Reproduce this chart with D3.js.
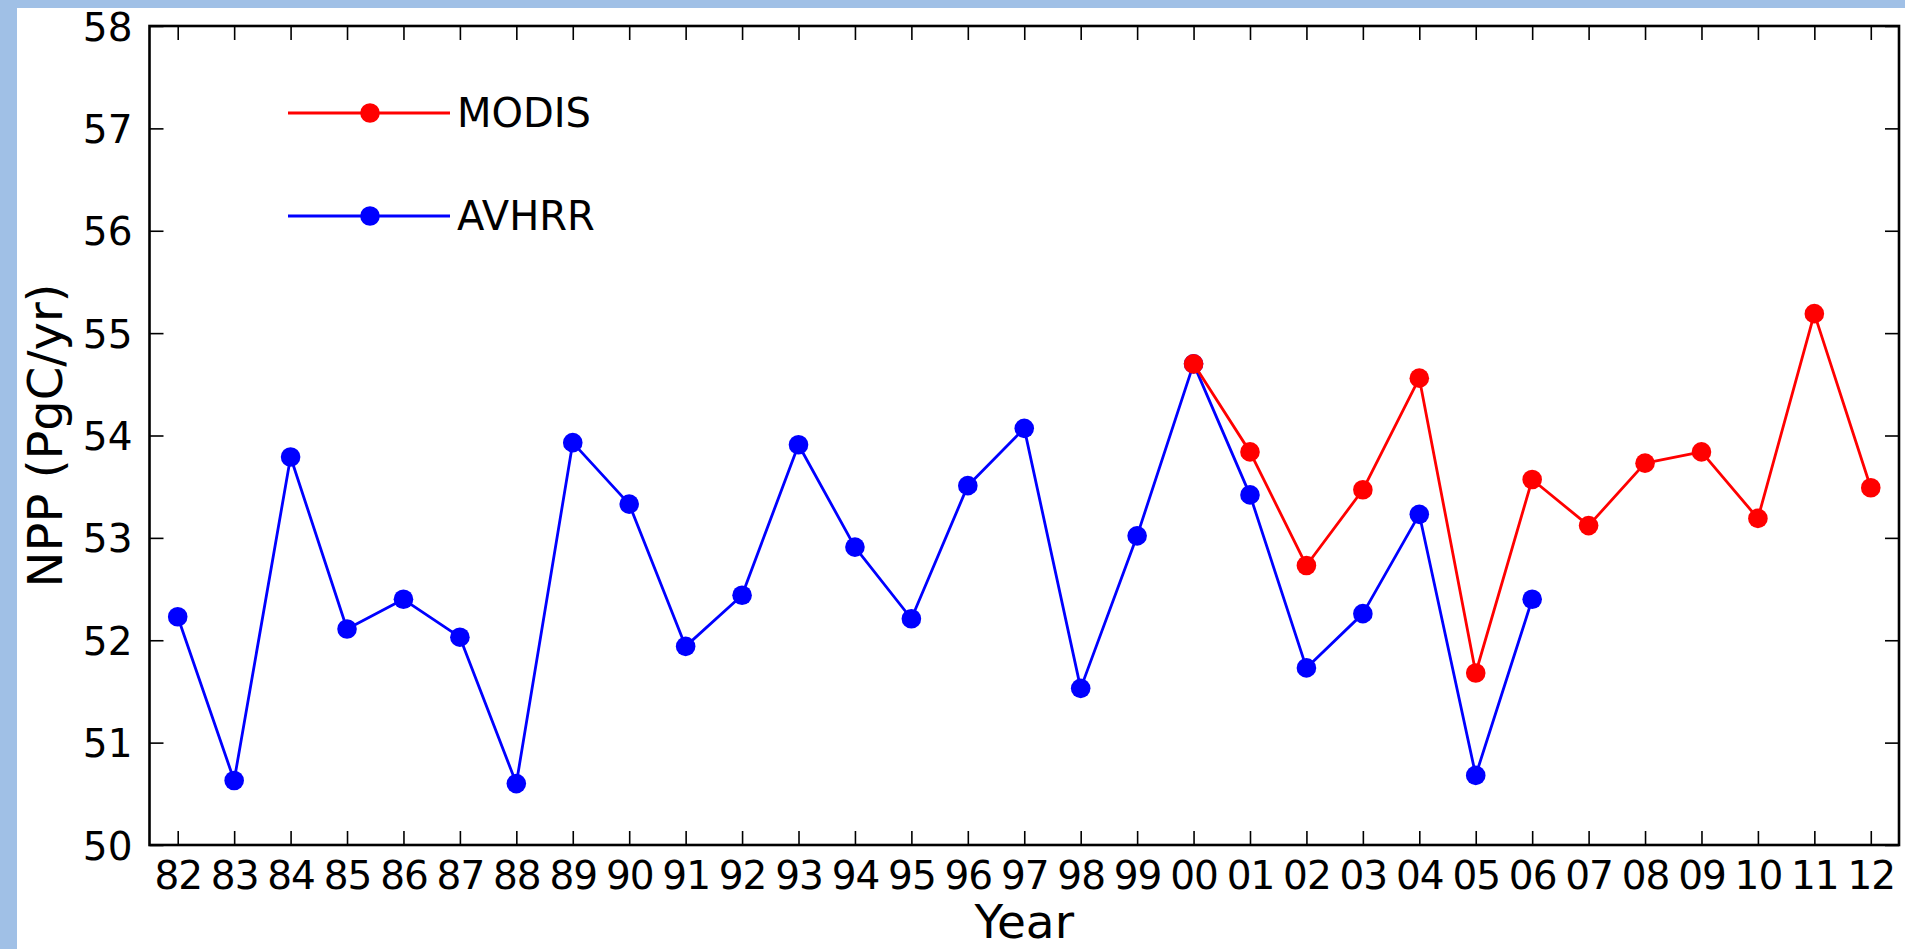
<!DOCTYPE html>
<html>
<head>
<meta charset="utf-8">
<script src="https://cdn.jsdelivr.net/npm/d3@7"></script>
<style>
  html, body { margin: 0; padding: 0; background: #ffffff; }
  svg { display: block; }
  text { font-family: "DejaVu Sans", sans-serif; fill: #000; }
</style>
</head>
<body>
<script>
// ---- data ----
const years = ["82","83","84","85","86","87","88","89","90","91","92","93","94","95","96","97","98","99","00","01","02","03","04","05","06","07","08","09","10","11","12"];
const avhrrYears = years.slice(0, 25);   // 82 .. 06
const avhrrValues = [52.23, 50.63, 53.79, 52.11, 52.40, 52.03, 50.60, 53.93, 53.33, 51.94,
                     52.44, 53.91, 52.91, 52.21, 53.51, 54.07, 51.53, 53.02, 54.70, 53.42,
                     51.73, 52.26, 53.23, 50.68, 52.40];
const modisYears = years.slice(18);      // 00 .. 12
const modisValues = [54.70, 53.84, 52.73, 53.47, 54.56, 51.68, 53.57, 53.12, 53.73, 53.84, 53.19, 55.19, 53.49];
const yTicks = [50, 51, 52, 53, 54, 55, 56, 57, 58];
const seriesNames = ["MODIS", "AVHRR"];
const seriesColors = ["#ff0000", "#0000ff"];

// ---- layout ----
const W = 1905, H = 949;
const L = 149.5, R = 1899, T = 26, B = 845;

const svg = d3.select("body").append("svg").attr("width", W).attr("height", H);

// backdrop with blue frame (top + left)
svg.append("rect").attr("x", 0).attr("y", 0).attr("width", W).attr("height", H).attr("fill", "#a0c0e6");
svg.append("rect").attr("x", 17).attr("y", 8).attr("width", W - 17).attr("height", H - 8).attr("fill", "#ffffff");

const x = d3.scalePoint().domain(years).range([L, R]).padding(0.5);
const y = d3.scaleLinear().domain([50, 58]).range([B, T]);

// axes (ticks inward)
const tickLen = 14;
const axB = svg.append("g").attr("transform", `translate(0,${B})`)
  .call(d3.axisBottom(x).tickSizeInner(-tickLen).tickSizeOuter(0).tickPadding(16));
const axT = svg.append("g").attr("transform", `translate(0,${T})`)
  .call(d3.axisTop(x).tickSizeInner(-tickLen).tickSizeOuter(0).tickFormat(""));
const axL = svg.append("g").attr("transform", `translate(${L},0)`)
  .call(d3.axisLeft(y).tickValues(yTicks).tickFormat(d3.format("d")).tickSizeInner(-tickLen).tickSizeOuter(0).tickPadding(17));
const axR = svg.append("g").attr("transform", `translate(${R},0)`)
  .call(d3.axisRight(y).tickValues(yTicks).tickSizeInner(-tickLen).tickSizeOuter(0).tickFormat(""));

[axB, axT, axL, axR].forEach(g => {
  g.select(".domain").remove();
  g.selectAll(".tick line").attr("stroke", "#000").attr("stroke-width", 1.6);
  g.selectAll(".tick text").style("font-family", "DejaVu Sans").style("font-size", "39px").attr("fill", "#000");
});
axB.selectAll(".tick text").attr("dy", "0.71em").attr("letter-spacing", "-1px");
axL.selectAll(".tick text").attr("dy", "0.36em");

// frame
svg.append("rect").attr("x", L).attr("y", T).attr("width", R - L).attr("height", B - T)
  .attr("fill", "none").attr("stroke", "#000").attr("stroke-width", 2.6);

// series
const line = d3.line().x(d => x(d[0])).y(d => y(d[1]));
function drawSeries(yrs, vals, color) {
  const pts = yrs.map((yr, i) => [yr, vals[i]]);
  svg.append("path").datum(pts).attr("d", line).attr("fill", "none")
    .attr("stroke", color).attr("stroke-width", 2.8).attr("stroke-linejoin", "round");
  svg.append("g").selectAll("circle").data(pts).join("circle")
    .attr("cx", d => x(d[0])).attr("cy", d => y(d[1])).attr("r", 9.8).attr("fill", color);
}
drawSeries(avhrrYears, avhrrValues, seriesColors[1]);
drawSeries(modisYears, modisValues, seriesColors[0]);

// legend
const leg = svg.append("g");
const legY = [113, 216];
seriesNames.forEach((name, i) => {
  const g = leg.append("g").attr("transform", `translate(0,${legY[i]})`);
  g.append("line").attr("x1", 288).attr("x2", 450).attr("y1", 0).attr("y2", 0)
    .attr("stroke", seriesColors[i]).attr("stroke-width", 2.8);
  g.append("circle").attr("cx", 370).attr("cy", 0).attr("r", 9.8).attr("fill", seriesColors[i]);
  g.append("text").attr("x", 457).attr("y", 0).attr("dy", "0.36em")
    .style("font-size", "40px").text(name);
});

// axis labels
svg.append("text").attr("x", (L + R) / 2).attr("y", 938).attr("text-anchor", "middle")
  .style("font-size", "47px").text("Year");
svg.append("text").attr("transform", `translate(62,${(T + B) / 2}) rotate(-90)`)
  .attr("text-anchor", "middle").style("font-size", "48px").text("NPP (PgC/yr)");
</script>
</body>
</html>
